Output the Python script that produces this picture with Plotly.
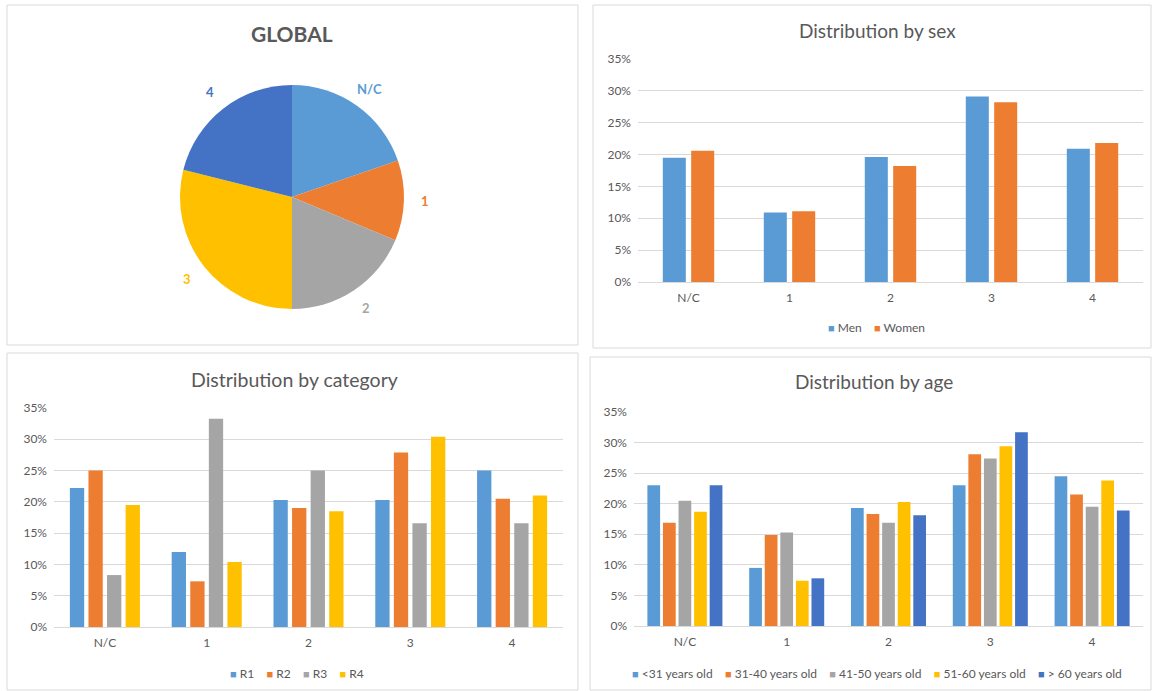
import numpy as np
import plotly.graph_objects as go

W, H = 1152, 691

# ---- data -------------------------------------------------------------
categories = ["N/C", "1", "2", "3", "4"]

global_share = [19.7, 11.6, 18.7, 28.9, 21.1]

sex_names = ["Men", "Women"]
sex_men = [19.5, 10.9, 19.6, 29.1, 20.9]
sex_women = [20.6, 11.1, 18.2, 28.2, 21.8]

cat_names = ["R1", "R2", "R3", "R4"]
cat_r1 = [22.2, 12.0, 20.3, 20.3, 25.0]
cat_r2 = [25.0, 7.3, 19.0, 27.9, 20.5]
cat_r3 = [8.3, 33.3, 25.0, 16.6, 16.6]
cat_r4 = [19.5, 10.4, 18.5, 30.4, 21.0]

age_names = ["<31 years old", "31-40 years old", "41-50 years old",
             "51-60 years old", "> 60 years old"]
age_lt31 = [23.0, 9.5, 19.3, 23.0, 24.5]
age_31_40 = [16.9, 14.9, 18.3, 28.1, 21.5]
age_41_50 = [20.5, 15.3, 16.9, 27.4, 19.5]
age_51_60 = [18.7, 7.4, 20.3, 29.4, 23.8]
age_gt60 = [23.0, 7.8, 18.1, 31.7, 18.9]

# ---- styling ----------------------------------------------------------
BLUE, ORANGE, GRAY, GOLD, NAVY = "#5B9BD5", "#ED7D31", "#A5A5A5", "#FFC000", "#4472C4"
PALETTE = [BLUE, ORANGE, GRAY, GOLD, NAVY]
TEXT = "#595959"
GRID = "#D9D9D9"
FONT = "Lato"


def xdom(x0, x1):
    return [x0 / W, x1 / W]


def ydom(y0, y1):
    # pixel rows measured from the top of the page
    return [1 - y1 / H, 1 - y0 / H]


def px(x, y):
    return x / W, 1 - y / H


fig = go.Figure()

# ---- pie --------------------------------------------------------------
cx, cy, r = 292, 197, 112
fig.add_trace(go.Pie(
    labels=categories, values=global_share, sort=False, direction="clockwise",
    rotation=0, marker=dict(colors=PALETTE, line=dict(width=0)),
    textinfo="none", domain=dict(x=xdom(cx - r, cx + r), y=ydom(cy - r, cy + r)),
    showlegend=False, hoverinfo="label+percent",
))

# slice labels sit just outside the rim, at each slice's middle angle
shares = np.array(global_share, dtype=float)
mid = (np.cumsum(shares) - shares / 2) / shares.sum() * 2 * np.pi
label_r = r + 21
for lab, ang, col in zip(categories, mid, PALETTE):
    lx, ly = px(cx + label_r * np.sin(ang), cy - label_r * np.cos(ang))
    fig.add_annotation(text=lab, x=lx, y=ly, xref="paper", yref="paper",
                       xanchor="center", yanchor="middle", showarrow=False,
                       font=dict(family=FONT, size=13, color=col, weight="bold"))


def pct(vals):
    return [v / 100 for v in vals]


def add_bars(names, series, colors, xa, ya, slot, width):
    # slot / width are fractions of one category step; bars are laid side by side
    n = len(series)
    for i, (nm, s, c) in enumerate(zip(names, series, colors)):
        off = -n * slot / 2 + i * slot + (slot - width) / 2
        fig.add_trace(go.Bar(
            x=categories, y=pct(s), name=nm, marker=dict(color=c, line=dict(width=0)),
            width=width, offset=off, xaxis=xa, yaxis=ya, showlegend=False,
            hovertemplate=nm + ": %{y:.1%}<extra></extra>",
        ))


add_bars(sex_names, [sex_men, sex_women], PALETTE[:2], "x", "y", 0.281, 0.228)
add_bars(cat_names, [cat_r1, cat_r2, cat_r3, cat_r4], PALETTE[:4], "x2", "y2", 0.1825, 0.1405)
add_bars(age_names, [age_lt31, age_31_40, age_41_50, age_51_60, age_gt60], PALETTE,
         "x3", "y3", 0.153, 0.125)

tickfont = dict(family=FONT, size=12, color=TEXT)


def yaxis(dom, anchor):
    return dict(domain=dom, anchor=anchor, range=[0, 0.35], dtick=0.05, tickformat=".0%",
                gridcolor=GRID, gridwidth=1, zeroline=False, showline=False,
                tickfont=tickfont, ticks="", ticklabelstandoff=6, fixedrange=True)


def xaxis(dom, anchor):
    return dict(domain=dom, anchor=anchor, type="category", range=[-0.5, 4.5],
                showline=True, linecolor=GRID, linewidth=1, tickfont=tickfont, ticks="",
                ticklabelstandoff=5, showgrid=False, fixedrange=True)


fig.update_layout(
    width=W, height=H, margin=dict(l=0, r=0, t=0, b=0, pad=0, autoexpand=False),
    paper_bgcolor="white", plot_bgcolor="white",
    font=dict(family=FONT, color=TEXT),
    barmode="overlay", showlegend=False,
    xaxis=xaxis(xdom(638, 1143), "y"), yaxis=yaxis(ydom(59, 282), "x"),
    xaxis2=xaxis(xdom(54, 563), "y2"), yaxis2=yaxis(ydom(408, 627), "x2"),
    xaxis3=xaxis(xdom(634, 1143), "y3"), yaxis3=yaxis(ydom(412, 626), "x3"),
)


# legend rows: coloured square followed by the series name
def legend_row(names, colors, x, y):
    parts = [f"<span style='color:{c};font-size:11px'>■</span> {n}" for n, c in zip(names, colors)]
    lx, ly = px(x, y)
    fig.add_annotation(text="&nbsp;&nbsp;&nbsp;&nbsp;".join(parts), x=lx, y=ly,
                       xref="paper", yref="paper", xanchor="center", yanchor="middle",
                       showarrow=False, font=dict(family=FONT, size=12, color=TEXT))


legend_row(sex_names, PALETTE[:2], 876, 327)
legend_row(cat_names, PALETTE[:4], 297, 673)
legend_row(age_names, PALETTE, 877, 673)

# panel frames
for x0, y0, x1, y1 in [(7, 5, 578, 345), (593, 5, 1151, 348), (7, 353, 578, 690), (590, 357, 1151, 690)]:
    fig.add_shape(type="rect", xref="paper", yref="paper",
                  x0=x0 / W, x1=x1 / W, y0=1 - y1 / H, y1=1 - y0 / H,
                  line=dict(color=GRID, width=1), fillcolor="rgba(0,0,0,0)", layer="below")

# panel titles
titles = [("GLOBAL", 292, 33, 21, "bold"), ("Distribution by sex", 877, 30, 19, "normal"),
          ("Distribution by category", 294, 379, 19.5, "normal"), ("Distribution by age", 874, 382, 19, "normal")]
for text, x, y, size, weight in titles:
    tx, ty = px(x, y)
    fig.add_annotation(text=text, x=tx, y=ty, xref="paper", yref="paper",
                       xanchor="center", yanchor="middle", showarrow=False,
                       font=dict(family=FONT, size=size, color=TEXT, weight=weight))

fig.write_html("out.html")
